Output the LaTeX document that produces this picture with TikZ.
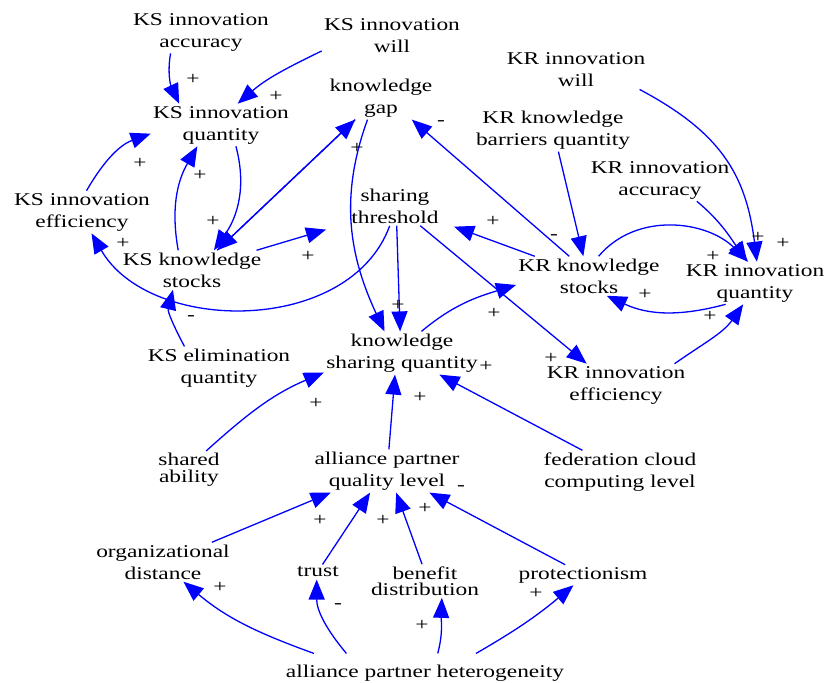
\documentclass[tikz,border=0pt]{standalone}
\usepackage{fontspec}
\setmainfont{Liberation Serif}[FakeStretch=1.3]
\usetikzlibrary{arrows.meta}

\begin{document}
\begin{tikzpicture}[
    x=0.5pt, y=0.5pt,
    var/.style={align=center, inner sep=1pt, font=\fontsize{9}{11}\selectfont},
    pol/.style={inner sep=0pt, font=\fontsize{9}{11}\selectfont},
    arrow/.style={-{Triangle[length=10pt, width=8pt]}, draw=blue, line width=0.65pt}
]
\useasboundingbox (0,0) rectangle (826,-682);

% Variables KS (cote gauche)
\node[var] (ksacc) at (201,-32) {KS innovation\\accuracy};
\node[var] (kswill) at (392,-36) {KS innovation\\will};
\node[var] (ksiq) at (221,-125) {KS innovation\\quantity};
\node[var] (ksie) at (82,-212) {KS innovation\\efficiency};
\node[var] (kss) at (192,-270) {KS knowledge\\stocks};
\node[var] (kselim) at (219,-368) {KS elimination\\quantity};

% Variables centrales
\node[var] (gap) at (381,-98) {knowledge\\gap};
\node[var] (thr) at (395,-206) {sharing\\threshold};
\node[var] (ksq) at (402,-353) {knowledge\\sharing quantity};

% Variables KR (cote droit)
\node[var] (krwill) at (576,-70) {KR innovation\\will};
\node[var] (krbar) at (553,-130) {KR knowledge\\barriers quantity};
\node[var] (kracc) at (660,-180) {KR innovation\\accuracy};
\node[var] (krs) at (589,-276) {KR knowledge\\stocks};
\node[var] (kriq) at (755,-283) {KR innovation\\quantity};
\node[var] (krie) at (616,-385) {KR innovation\\efficiency};

% Partenaires de l'alliance
\node[var, font=\fontsize{9}{8.5}\selectfont] (shab) at (189,-470) {shared\\ability};
\node[var] (apq) at (387,-471) {alliance partner\\quality level};
\node[var] (fed) at (620,-472) {federation cloud\\computing level};
\node[var] (orgd) at (163,-562) {organizational\\distance};
\node[var] (trust) at (318,-572) {trust};
\node[var, font=\fontsize{9}{8}\selectfont] (bene) at (425,-581) {benefit\\distribution};
\node[var] (prot) at (583,-575) {protectionism};
\node[var, inner ysep=5.5pt] (het) at (425,-673) {alliance partner heterogeneity};

% Liens KS
\draw[arrow] (ksacc.215) to[out=-100, in=115] (ksiq.153);
\draw[arrow] (kswill.192) to[out=206, in=41] (ksiq.52);
\draw[arrow] (ksie.78) to[out=60, in=200] (ksiq.187);
\draw[arrow] (kss.125) to[out=100, in=240] (ksiq.222);
\draw[arrow] (ksiq.305) to[out=-75, in=55] (kss.42);
\draw[arrow] (kss.38) -- (gap.220);
\draw[arrow] (gap.220) -- (kss.38);
\draw[arrow, shorten >=12pt] (kss.17) -- (thr.200);
\draw[arrow] (thr.255) to[out=250, in=300] (ksie.294);
\draw[arrow] (kselim.148) to[out=118, in=256] (kss.226);

% Liens centraux
\draw[arrow] (gap.238) to[out=250, in=115] (ksq.129);
\draw[arrow] (thr.275) -- (ksq.95);
\draw[arrow] (thr.322) -- (krie.144);
\draw[arrow] (ksq.48) to[out=40, in=197] (krs.187);

% Liens KR
\draw[arrow] (krs.135) -- (gap.325);
\draw[arrow, shorten >=7pt] (krs.160) -- (thr.341);
\draw[arrow] (krbar.284) -- (krs.106);
\draw[arrow] (krs.64) to[out=50, in=135] (kriq.108);
\draw[arrow] (kracc.330) to[out=-40, in=125] (kriq.110);
\draw[arrow] (krwill.343) to[out=-28, in=97, looseness=1.1] (kriq.85);
\draw[arrow] (kriq.216) to[out=195, in=335] (krs.312);
\draw[arrow] (krie.20) to[out=35, in=235] (kriq.241);

% Liens du bas
\draw[arrow] (shab.48) to[out=42, in=203] (ksq.194);
\draw[arrow] (apq.85) -- (ksq.252);
\draw[arrow] (fed.150) -- (ksq.330);
\draw[arrow] (orgd.22) -- (apq.201);
\draw[arrow] (trust.59) -- (apq.232);
\draw[arrow] (bene.100) -- (apq.293);
\draw[arrow] (prot.150) -- (apq.333);
\draw[arrow] (het.170) to[out=160, in=320] (orgd.316);
\draw[arrow] (het.166) to[out=130, in=270] (trust.260);
\draw[arrow] (het.57) to[out=75, in=268] (bene.315);
\draw[arrow] (het.21) to[out=30, in=220] (prot.227);

% Polarites
\node[pol] (p1) at (193,-79) {+};
\node[pol] (p2) at (276,-96) {+};
\node[pol] (p3) at (140,-163) {+};
\node[pol] (p4) at (200,-175) {+};
\node[pol] (p5) at (213,-221) {+};
\node[pol] (p6) at (308,-256) {+};
\node[pol] (p7) at (123,-243) {+};
\node[pol] (p8) at (191,-318) {-};
\node[pol] (p9) at (357,-148) {+};
\node[pol] (p10) at (398,-305) {+};
\node[pol] (p11) at (551,-358) {+};
\node[pol] (p12) at (494,-313) {+};
\node[pol] (p13) at (441,-123) {-};
\node[pol] (p14) at (493,-221) {+};
\node[pol] (p15) at (554,-237) {-};
\node[pol] (p16) at (713,-256) {+};
\node[pol] (p17) at (758,-237) {+};
\node[pol] (p18) at (783,-243) {+};
\node[pol] (p19) at (645,-294) {+};
\node[pol] (p20) at (710,-316) {+};
\node[pol] (p21) at (316,-403) {+};
\node[pol] (p22) at (420,-397) {+};
\node[pol] (p23) at (486,-366) {+};
\node[pol] (p24) at (320,-520) {+};
\node[pol] (p25) at (383,-520) {+};
\node[pol] (p26) at (425,-508) {+};
\node[pol] (p27) at (461,-488) {-};
\node[pol] (p28) at (220,-587) {+};
\node[pol] (p29) at (338,-606) {-};
\node[pol] (p30) at (422,-625) {+};
\node[pol] (p31) at (536,-593) {+};

\end{tikzpicture}
\end{document}
